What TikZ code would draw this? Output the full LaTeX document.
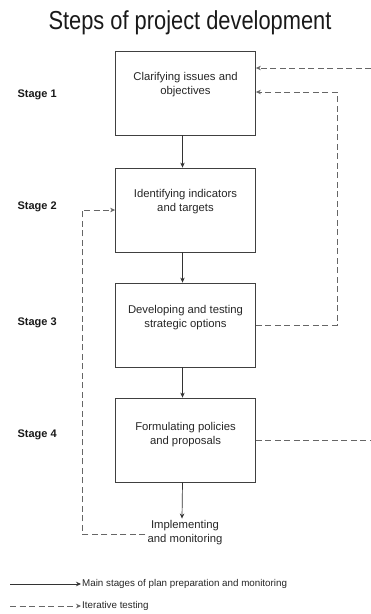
\documentclass[tikz,border=0pt]{standalone}
\usepackage{fontspec}
\setmainfont{Liberation Sans}
\newfontfamily\titlefont[FakeStretch=0.84]{Liberation Sans}
\usepackage{tikz}
\usetikzlibrary{arrows,arrows.meta,positioning,calc}

\tikzset{
	stagebox/.style={draw=black!75, line width=0.8pt, minimum width=140pt, minimum height=84pt, inner sep=0pt},
	boxtext/.style={align=center, text=black!85, font=\fontsize{11.3}{14}\selectfont},
	stagelabel/.style={anchor=west, text=black!90, font=\bfseries\fontsize{11}{13}\selectfont},
	mainline/.style={draw=black!80, line width=0.7pt, ->},
	iterline/.style={draw=black!60, line width=0.7pt, dash pattern=on 6pt off 3.5pt, ->},
}

\begin{document}
\begin{tikzpicture}[x=1pt, y=-1pt, >={Stealth[length=5pt,width=4.5pt]}]
	\useasboundingbox (0,0) rectangle (371,614);
	% title
	\node[font=\titlefont\fontsize{26}{30}\selectfont, text=black!90] (title) at (190,23) {Steps of project development};
	% stages
	\node[stagebox] (box1) at (185.5,93) {};
	\node[stagebox] (box2) at (185.5,210) {};
	\node[stagebox] (box3) at (185.5,325) {};
	\node[stagebox] (box4) at (185.5,440) {};
	\node[boxtext] (text1) at ([yshift=8pt]box1.center) {Clarifying issues and\\objectives};
	\node[boxtext] (text2) at ([yshift=8.5pt]box2.center) {Identifying indicators\\and targets};
	\node[boxtext] (text3) at ([yshift=7.5pt]box3.center) {Developing and testing\\strategic options};
	\node[boxtext] (text4) at ([yshift=5.5pt]box4.center) {Formulating policies\\and proposals};
	\node[boxtext, inner sep=2pt] (impl) at (185,533) {Implementing\\and monitoring};
	\node[stagelabel] (stage1) at (14,95) {Stage 1};
	\node[stagelabel] (stage2) at (14,207) {Stage 2};
	\node[stagelabel] (stage3) at (14,323) {Stage 3};
	\node[stagelabel] (stage4) at (14,435) {Stage 4};
	% main flow
	\draw[mainline] ([xshift=-3pt]box1.south) -- ([xshift=-3pt]box2.north);
	\draw[mainline] ([xshift=-3pt]box2.south) -- ([xshift=-3pt]box3.north);
	\draw[mainline] ([xshift=-3pt]box3.south) -- ([xshift=-3pt]box4.north);
	\draw[mainline] ([xshift=-3pt]box4.south) -- ([xshift=-3pt]impl.north);
	% iterative testing
	\coordinate (edgeA) at (371,68);
	\coordinate (edgeB) at (371,440);
	\coordinate (loopR) at (337,92);
	\coordinate (loopL) at (82,210);
	\draw[iterline] (edgeA) -- (edgeA -| box1.east);
	\draw[iterline, -] (box4.east) -- (edgeB);
	\draw[iterline] (box3.east) -| (loopR) -- (loopR -| box1.east);
	\draw[iterline] ([yshift=-1pt]impl.west) -| (loopL) -- (box2.west);
	% legend
	\coordinate (leg1) at (10,584);
	\coordinate (leg2) at (10,606);
	\node[anchor=west, inner sep=1pt, text=black!85, font=\fontsize{9.8}{12}\selectfont] (main) at (81,584) {Main stages of plan preparation and monitoring};
	\node[anchor=west, inner sep=1pt, text=black!85, font=\fontsize{9.8}{12}\selectfont] (iter) at (81,606) {Iterative testing};
	\draw[mainline] (leg1) -- (main.west);
	\draw[iterline] (leg2) -- (iter.west);
\end{tikzpicture}
\end{document}
